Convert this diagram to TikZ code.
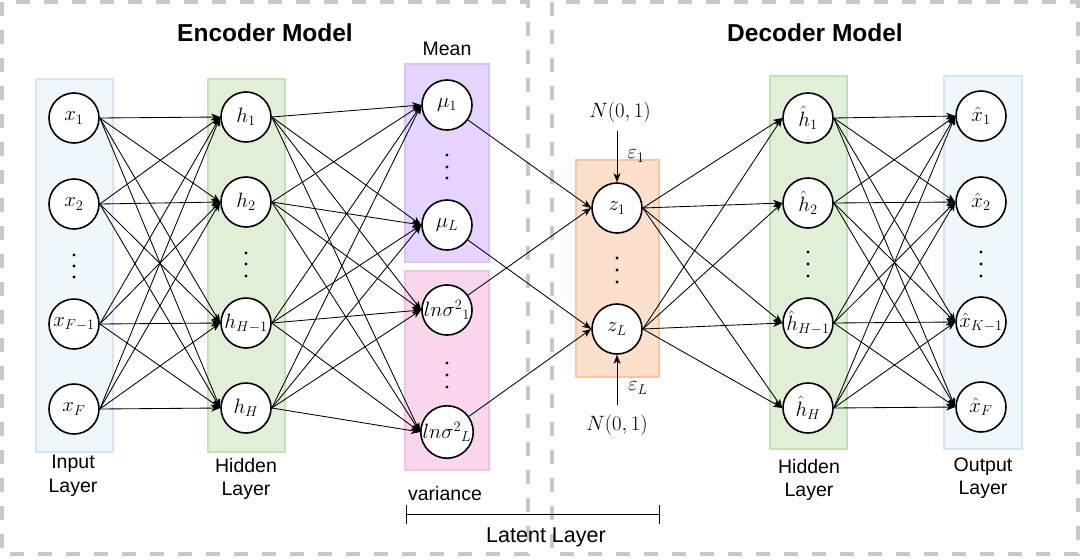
\documentclass[tikz,border=0pt]{standalone}
\usepackage[no-math]{fontspec}
\newfontfamily\labfont{Liberation Sans}
\usetikzlibrary{arrows.meta}
\definecolor{bluefill}{HTML}{EFF7FC}
\definecolor{bluestroke}{HTML}{D2E7F3}
\definecolor{greenfill}{HTML}{E1EFD8}
\definecolor{greenstroke}{HTML}{C6E0B6}
\definecolor{purplefill}{HTML}{E5D4FF}
\definecolor{purplestroke}{HTML}{D6C3FA}
\definecolor{pinkfill}{HTML}{F9D6EC}
\definecolor{pinkstroke}{HTML}{F2C2E0}
\definecolor{orangefill}{HTML}{FCE0CB}
\definecolor{orangestroke}{HTML}{F5C5A6}
\definecolor{dashgray}{HTML}{C8C8C8}
\begin{document}
\begin{tikzpicture}[x=1pt,y=-1pt,
  neuron/.style={circle, draw=black, line width=1.6pt, fill=white, minimum size=50pt, inner sep=0pt, font=\fontsize{21}{21}\selectfont},
  conn/.style={line width=0.85pt, -{Stealth[length=9pt,width=7pt,inset=2.5pt]}},
  layerbox/.style={line width=1.5pt},
  frame/.style={draw=dashgray, line width=4pt, dash pattern=on 14pt off 14pt},
  lab/.style={font=\labfont\fontsize{19.5}{23.5}\selectfont, align=center, inner sep=0pt},
  title/.style={font=\labfont\bfseries\fontsize{24.5}{28}\selectfont, inner sep=0pt},
  mlab/.style={font=\fontsize{21}{22}\selectfont, inner sep=0pt},
  vdot/.style={circle, fill=black, inner sep=0pt, minimum size=3.2pt}
]
\useasboundingbox (0,0) rectangle (1081,557);
% frames
\draw[frame] (2,2) rectangle (528,554);
\draw[frame] (552,2) rectangle (1078,554);
% layer boxes
\draw[layerbox, draw=bluestroke, fill=bluefill] (36,79) rectangle (113,452);
\draw[layerbox, draw=greenstroke, fill=greenfill] (208,79) rectangle (285,452);
\draw[layerbox, draw=purplestroke, fill=purplefill] (405,64) rectangle (489,262);
\draw[layerbox, draw=pinkstroke, fill=pinkfill] (405,271) rectangle (489,470);
\draw[layerbox, draw=orangestroke, fill=orangefill] (576,160) rectangle (659,377);
\draw[layerbox, draw=greenstroke, fill=greenfill] (770,76) rectangle (847,449);
\draw[layerbox, draw=bluestroke, fill=bluefill] (944,76) rectangle (1022,449);
% titles and labels
\node[title] (tenc) at (265,33) {Encoder Model};
\node[title] (tdec) at (815,33) {Decoder Model};
\node[lab] (lmean) at (447,49) {Mean};
\node[lab] (lvar) at (445,494) {variance};
\node[lab] (lin) at (73,476) {Input\\Layer};
\node[lab] (lhid) at (246,479) {Hidden\\Layer};
\node[lab] (lhid2) at (809,480) {Hidden\\Layer};
\node[lab] (lout) at (983,478) {Output\\Layer};
\node[lab, font=\labfont\fontsize{21.5}{24}\selectfont] (llat) at (546,537) {Latent Layer};
% latent bracket
\coordinate (bl) at (406,514);
\coordinate (br) at (659,514);
\draw[line width=1pt] (bl) -- (br);
\draw[line width=1pt] (406,505) -- (406,524);
\draw[line width=1pt] (659,505) -- (659,524);
% input layer
\node[neuron] (x1) at (74,118) {$x_1$};
\node[neuron] (x2) at (74,204) {$x_2$};
\node[neuron] (xF1) at (74,324) {$x_{F-1}$};
\node[neuron] (xF) at (74,409) {$x_F$};
% hidden
\node[neuron] (h1) at (246,117) {$h_1$};
\node[neuron] (h2) at (246,202) {$h_2$};
\node[neuron] (hH1) at (246,323) {$h_{H-1}$};
\node[neuron] (hH) at (246,408) {$h_H$};
% mean / variance
\node[neuron] (mu1) at (447,105) {$\mu_1$};
\node[neuron] (muL) at (447,225) {$\mu_L$};
\node[neuron] (s1) at (447,310) {${ln\sigma^2}_1$};
\node[neuron] (sL) at (447,432) {${ln\sigma^2}_L$};
% latent z
\node[neuron] (z1) at (617,208) {$z_1$};
\node[neuron] (zL) at (617,329) {$z_L$};
\node[mlab] (n1) at (620,112) {$N(0,1)$};
\node[mlab] (nL) at (617,425) {$N(0,1)$};
\node[mlab] (e1) at (636,156) {$\varepsilon_1$};
\node[mlab] (eL) at (638,388) {$\varepsilon_L$};
% decoder hidden
\node[neuron] (dh1) at (808,118) {$\hat{h}_1$};
\node[neuron] (dh2) at (808,203) {$\hat{h}_2$};
\node[neuron] (dhH1) at (808,323) {$\hat{h}_{H-1}$};
\node[neuron] (dhH) at (808,408) {$\hat{h}_H$};
% output
\node[neuron] (o1) at (981,116) {$\hat{x}_1$};
\node[neuron] (o2) at (981,202) {$\hat{x}_2$};
\node[neuron] (oK1) at (981,322) {$\hat{x}_{K-1}$};
\node[neuron] (oF) at (981,407) {$\hat{x}_F$};
% vertical dots
\foreach \px/\py in {74/255,74/266,74/277, 246/253,246/264,246/276, 447/155,447/167,447/178, 447/363,447/375,447/387, 617/258,617/270,617/282, 808/252,808/264,808/276, 981/252,981/264,981/276}
  \node[vdot] at (\px,\py) {};
% connections
\foreach \a in {x1,x2,xF1,xF}
  \foreach \b in {h1,h2,hH1,hH}
    \draw[conn] (\a.east) -- (\b.west);
\foreach \a in {h1,h2,hH1,hH}
  \foreach \b in {mu1,muL,s1,sL}
    \draw[conn] (\a.east) -- (\b.west);
\draw[conn] (mu1) -- (z1.west);
\draw[conn] (s1) -- (z1.west);
\draw[conn] (muL) -- (zL.west);
\draw[conn] (sL) -- (zL.west);
\draw[conn] (617,131) -- (z1.north);
\draw[conn] (617,405) -- (zL.south);
\foreach \a in {z1,zL}
  \foreach \b in {dh1,dh2,dhH1,dhH}
    \draw[conn] (\a.east) -- (\b.west);
\foreach \a in {dh1,dh2,dhH1,dhH}
  \foreach \b in {o1,o2,oK1,oF}
    \draw[conn] (\a.east) -- (\b.west);
\end{tikzpicture}
\end{document}
